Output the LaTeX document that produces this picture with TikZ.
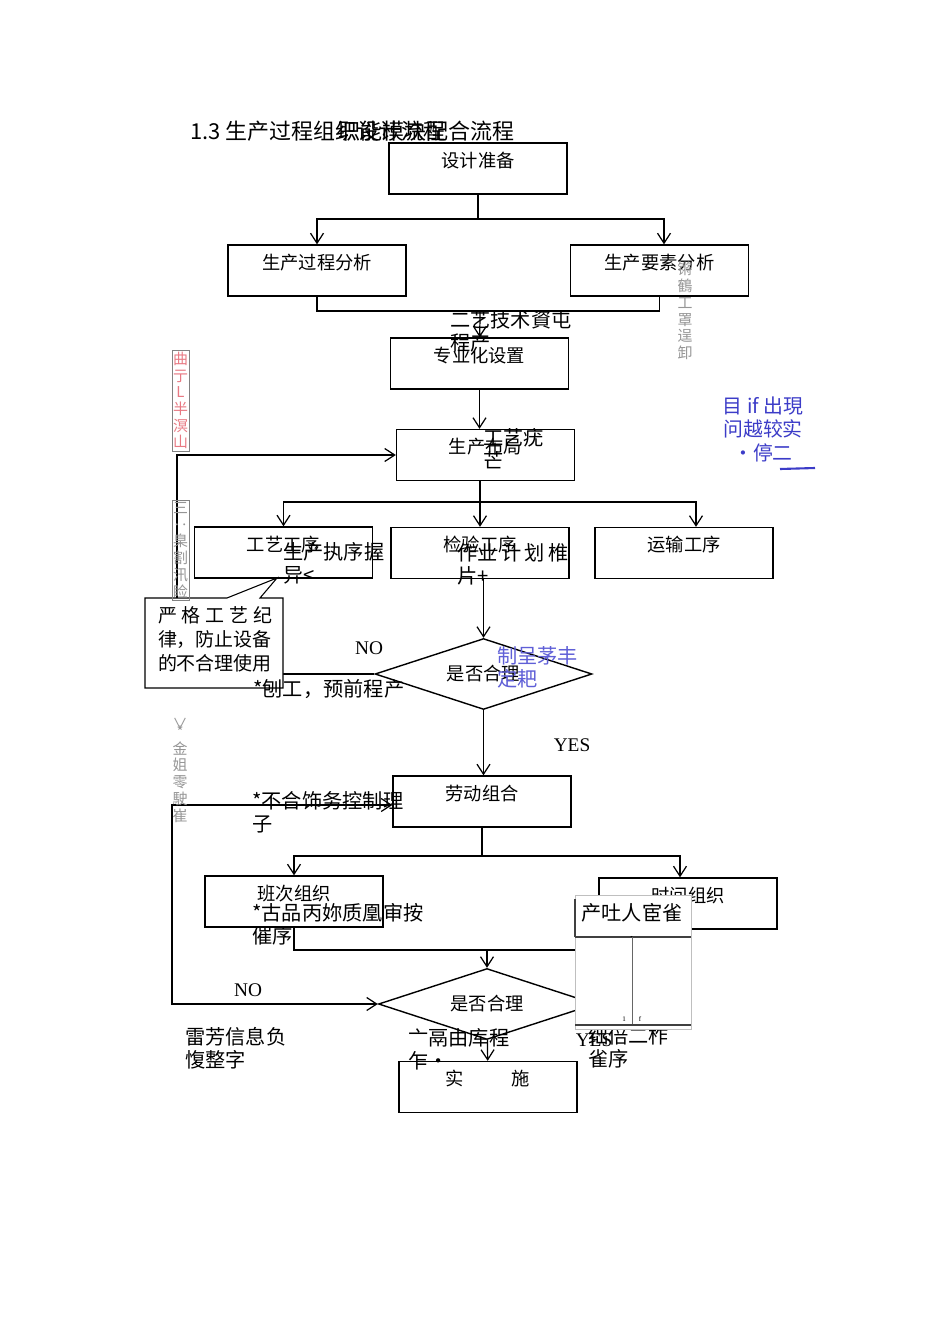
\documentclass[tikz,border=0pt]{standalone}
\usepackage{fontspec}
\setmainfont{Liberation Serif}
\newfontfamily\cjk{Noto Sans CJK SC}
\usetikzlibrary{arrows.meta,shapes.geometric}
\newcommand{\lblfont}{\cjk\fontsize{10.4}{12}\selectfont}
\newcommand{\notefont}{\cjk\fontsize{11.5}{13}\selectfont}
\newcommand{\titlefont}{\cjk\fontsize{12.5}{14}\selectfont}
\newcommand{\vfont}{\cjk\fontsize{8.5}{9.5}\selectfont}
\definecolor{pinkred}{RGB}{232,120,130}
\definecolor{noteblue}{RGB}{60,60,200}
\definecolor{lightblue}{RGB}{95,95,215}
\definecolor{notegray}{RGB}{150,150,150}
\definecolor{boxgray}{RGB}{130,130,130}

\begin{document}
\begin{tikzpicture}[x=0.02cm, y=-0.02cm,
  box/.style = {draw, line width=0.8pt, minimum width=3.56cm, inner xsep=0pt, inner ysep=0.1cm, text height=0.38cm, text depth=0.44cm, font=\lblfont},
  choice/.style = {draw, diamond, shape aspect=3, line width=0.8pt, minimum width=4.34cm, minimum height=1.42cm, inner sep=0pt, font=\lblfont},
  ln/.style = {line width=0.7pt},
  arr/.style = {ln, -{Straight Barb[length=2mm,width=2.6mm]}},
  arrs/.style = {ln, {Straight Barb[length=2mm,width=2.6mm]}-{Straight Barb[length=2mm,width=2.6mm]}},
  note/.style = {anchor=north west, align=left, inner sep=0pt, font=\notefont},
  vnote/.style = {align=center, inner sep=0pt, font=\vfont},
  yn/.style = {inner sep=0pt, font=\fontsize{11}{13}\selectfont}
]
\fill[white] (0,0) rectangle (950,1318);
\useasboundingbox (0,0) rectangle (950,1318);

% title
\node[note, font=\titlefont] (t1) at (190,121) {1.3 生产过程组织设计流程};
\node[note, font=\titlefont] (t2) at (338,121) {职能模块配合流程};

% boxes
\node[box] (sj) at (478,168.5) {设计准备};
\node[box] (gc) at (317,270.5) {生产过程分析};
\node[box] (ys) at (659.5,270.5) {生产要素分析};
\node[box] (zy) at (479.5,363.5) {专业化设置};
\node[box] (bj) at (485.5,455) {生产布局};
\node[box] (gy) at (283.5,552.5) {工艺工序};
\node[box] (jy) at (480,553) {检验工序};
\node[box] (yun) at (684,553) {运输工序};
\node[choice] (d1) at (483.5,674) {是否合理};
\node[box] (ld) at (482,801.5) {劳动组合};
\node[box] (bc) at (294,901.5) {班次组织};
\node[box] (sjz) at (688,903.5) {时间组织};
\node[choice] (d2) at (487,1004) {是否合理};
\node[box] (ss) at (488,1087) {实\hspace{0.96cm}施};

% connectors
\coordinate (j1) at (478,219);
\draw[ln] (sj) -- (j1);
\draw[arr] (j1) -| (gc);
\draw[arr] (j1) -| ([xshift=0.09cm]ys.north);
\coordinate (j2) at (480,311);
\draw[ln] (gc) |- (j2) -| (ys);
\draw[arr] (j2) -- (zy);
\draw[arr] (zy.south) -- (zy.south |- bj.north);
\coordinate (f1) at (177,674);
\coordinate (f2) at (177,455);
\draw[arr] (d1) -- (f1) -- (f2) -- (bj);
\coordinate (j3) at (480,502);
\draw[ln] (j3 |- bj.south) -- (j3);
\draw[arr] (j3) -| (gy);
\draw[arr] (j3) -- (jy);
\draw[arr] (j3) -| ([xshift=0.24cm]yun.north);
\draw[arr] (d1.north |- jy.south) -- (d1);
\draw[arr] (d1.south) -- (d1.south |- ld.north);
\coordinate (k1) at (172,1004);
\coordinate (k2) at (172,805);
\draw[arrs] (d2.west) -- (k1) -- (k2) -- (ld.west |- k2);
\coordinate (j4) at (483,856);
\draw[ln] (ld.south) -- (ld.south |- j4);
\draw[arr] (j4) -| (bc);
\draw[arr] (j4) -| ([xshift=-0.16cm]sjz.north);
\coordinate (j5) at (487,950);
\draw[ln] (bc) |- (j5);
\draw[ln] (sjz) |- (j5);
\draw[arr] (j5) -- (d2);
\draw[arr] (d2) -- (ss);

\node[yn] (no1) at (369,648) {NO};
\node[yn] (yes1) at (572,745) {YES};
\node[yn] (no2) at (248,990) {NO};

% callout
\draw[line width=0.6pt, fill=white] (145,598) -- (227,598) -- (277,578) -- (260,598) -- (283,598) -- (283,688) -- (145,688) -- cycle;
\node[font=\cjk\fontsize{10.8}{13.6}\selectfont, text width=2.28cm, inner sep=0pt, align=left] (jl) at (215,639)
  {\makebox[\linewidth][s]{严\hfil 格\hfil 工\hfil 艺\hfil 纪}\\律，防止设备\\的不合理使用};

% side notes
\node[vnote, draw=boxgray, line width=0.5pt, text=pinkred, minimum width=0.34cm, minimum height=2.02cm] (rb) at (180.5,400.5) {曲\\亍\\L\\半\\溟\\山};
\node[vnote, draw=boxgray, line width=0.5pt, text=notegray, minimum width=0.34cm, minimum height=2cm] (gb) at (180.5,550) {三\\‥\\臬\\割\\汛\\睑};
\node[vnote, text=notegray, anchor=north] (v1) at (685,262) {锵\\鶴\\工\\罩\\逞\\卸};
\node[vnote, text=notegray, anchor=north] (v2) at (180,718) {∨\\[-5pt]*\\金\\姐\\零\\駛\\崔};
\node[note, anchor=north, align=center, text=noteblue, font=\cjk\fontsize{11.3}{13.6}\selectfont] (bn) at (763,396) {目 if 出現\\问越较实\\·停二};
\draw[noteblue, line width=1.2pt] (780,469) -- (815,468);

% stray texts
\node[note] (n1) at (450,310) {二艺技术資屯\\程产};
\node[note] (n2) at (483,428) {工艺疣\\芒};
\node[note] (n3) at (283,542) {生产执序握\\异<};
\node[note] (n4) at (457,543) {作业\,计\,划\,椎\\片+};
\node[note] (n5) at (253,679) {*刨工，预前程产};
\node[note, text=lightblue] (n6) at (497,646) {制呈茅丰\\定耙};
\node[note] (n7) at (252,791) {*不合饰务控制理\\子};
\node[note] (n8) at (252,903) {*古品丙妳质凰审按\\催序};
\node[note] (n9) at (185,1027) {雷芳信息负\\愎整字};
\node[note] (n10) at (408,1028) {亠鬲由库程\\乍•};
\node[yn] (yes2) at (594,1040) {YES};
\node[note] (n11) at (588,1026) {绌倍二柞\\雀序};

% overlay
\fill[white] (575,895) rectangle (691,1029);
\draw[black!25, line width=0.5pt] (575,895) rectangle (691,1029);
\draw[black!75, line width=0.6pt] (575,937) -- (575,899);
\draw[black!75, line width=0.6pt] (575,937) -- (691,937);
\node[font=\notefont] (ov) at (632,913) {产吐人宦雀};
\begin{scope}
\clip (575,899) rectangle (691,936);
\node[font=\notefont] (ov2) at (632,946) {序};
\end{scope}
\draw[black!60, line width=0.5pt] (632,937) -- (632,1025);
\draw[black!75, line width=0.6pt] (575,1025) -- (691,1025);
\node[font=\fontsize{4}{5}\selectfont, inner sep=0pt] (o1) at (624,1019) {1};
\node[font=\fontsize{4}{5}\selectfont, inner sep=0pt] (o2) at (640,1019) {f};
\end{tikzpicture}
\end{document}
